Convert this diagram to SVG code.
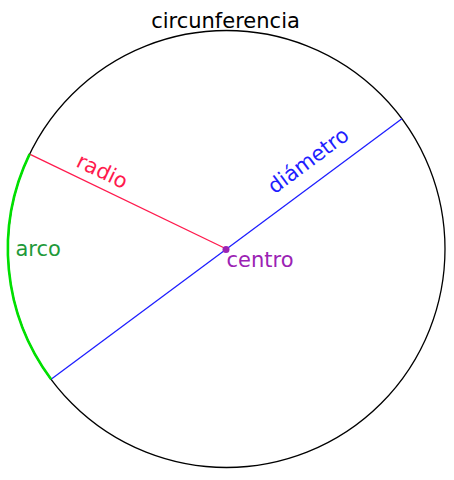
<svg xmlns="http://www.w3.org/2000/svg" width="454" height="480" viewBox="0 0 454 480">
<style>
text{font-family:"DejaVu Sans",sans-serif;font-size:21px}
</style>
<rect width="454" height="480" fill="#fff"/>
<g id="circunferencia">
<circle cx="226.5" cy="249" r="218.5" fill="none" stroke="#000" stroke-width="1.3"/>
<text x="225.5" y="28" text-anchor="middle" fill="#000">circunferencia</text>
</g>
<g id="connectors">
<line x1="29.6" y1="154.1" x2="226.5" y2="249" stroke="#ff1a4d" stroke-width="1.3"/>
<line x1="401.9" y1="118.7" x2="51.1" y2="379.3" stroke="#1e1eff" stroke-width="1.3"/>
<path d="M29.6 154.1 A218 218 0 0 0 51.1 379.3" fill="none" stroke="#00e000" stroke-width="2.6"/>
</g>
<g id="radio">
<text transform="translate(75 166) rotate(25.7)" fill="#ff1a4d">radio</text>
</g>
<g id="diametro">
<text transform="translate(274.5 194.5) rotate(-36.6)" fill="#1e1eff">diámetro</text>
</g>
<g id="arco">
<text x="15.5" y="256" fill="#1f9a3a">arco</text>
</g>
<g id="centro">
<circle cx="226" cy="249.5" r="3.5" fill="#9b22b4"/>
<text x="226.5" y="267" fill="#9b22b4">centro</text>
</g>
</svg>
